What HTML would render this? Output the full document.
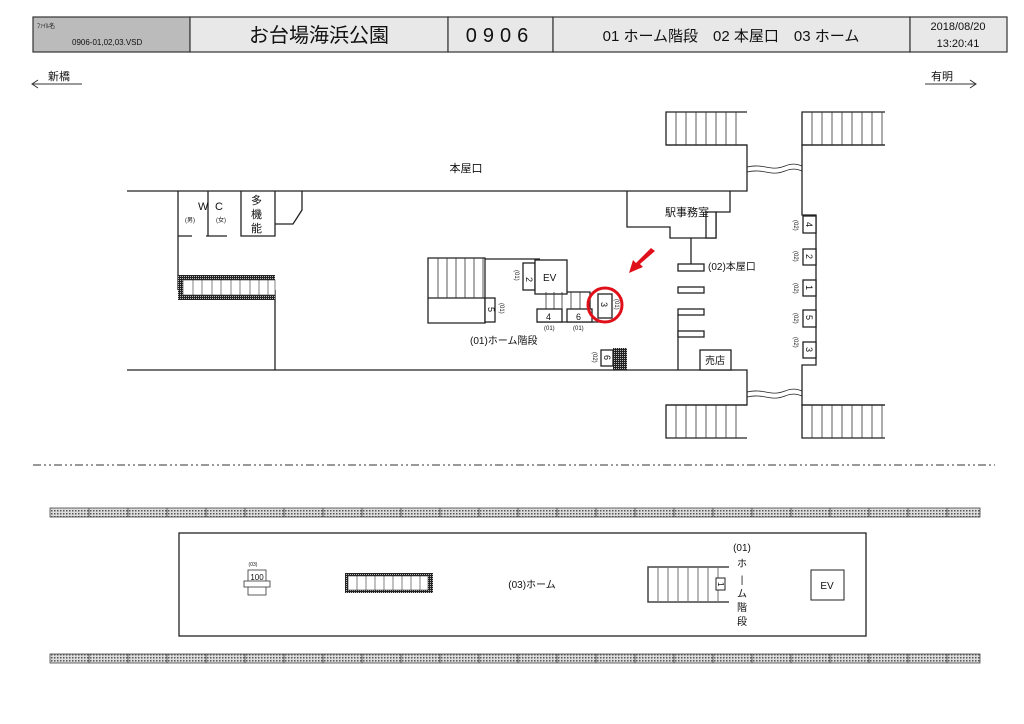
<!DOCTYPE html>
<html><head><meta charset="utf-8"><style>
html,body{margin:0;padding:0;background:#fff;width:1024px;height:724px;overflow:hidden}
svg{display:block}
text{font-family:"Liberation Sans","Noto Sans CJK JP",sans-serif;fill:#111}
</style></head><body>
<svg width="1024" height="724" viewBox="0 0 1024 724" xmlns="http://www.w3.org/2000/svg">
<defs>
<pattern id="dots" width="3" height="3" patternUnits="userSpaceOnUse"><rect width="3" height="3" fill="#ddd"/><rect width="1.5" height="1.5" fill="#555"/></pattern>
<pattern id="dk" width="2" height="2" patternUnits="userSpaceOnUse"><rect width="2" height="2" fill="#222"/><rect width="1" height="1" fill="#bbb"/></pattern>
</defs>
<!-- header -->
<g stroke="#333" stroke-width="1.2">
<rect x="33" y="17" width="157" height="35" fill="#bbb"/>
<rect x="190" y="17" width="258" height="35" fill="#e8e8e8"/>
<rect x="448" y="17" width="105" height="35" fill="#e8e8e8"/>
<rect x="553" y="17" width="357" height="35" fill="#e8e8e8"/>
<rect x="910" y="17" width="97" height="35" fill="#e8e8e8"/>
</g>
<text x="37" y="28" font-size="6">ﾌｧｲﾙ名</text>
<text x="72" y="45" font-size="8">0906-01,02,03.VSD</text>
<text x="319" y="42" font-size="20" text-anchor="middle">お台場海浜公園</text>
<text x="500" y="42" font-size="20" text-anchor="middle" letter-spacing="6">0906</text>
<text x="731" y="41" font-size="15" text-anchor="middle">01 ホーム階段　02 本屋口　03 ホーム</text>
<text x="958" y="30" font-size="11" text-anchor="middle">2018/08/20</text>
<text x="958" y="47" font-size="11" text-anchor="middle">13:20:41</text>
<!-- direction arrows -->
<text x="48" y="80" font-size="11">新橋</text>
<path d="M33 84H82M38 80L32 84L38 88" stroke="#333" fill="none"/>
<text x="931" y="80" font-size="11">有明</text>
<path d="M925 84H976M970 80L976 84L970 88" stroke="#333" fill="none"/>
<text x="466" y="172" font-size="11" text-anchor="middle">本屋口</text>
<g stroke="#222" stroke-width="1.3" fill="none">
<!-- concourse -->
<path d="M127 191H747V145H666"/>
<path d="M127 370H747V405H666"/>
<path d="M885 145H802V215H816V365H802V405H885"/>
<path d="M747 167C765 163 770 172 785 166C792 163 797 164 802 166M747 172C765 168 770 177 785 171C792 168 797 169 802 171" stroke-width="0.8"/>
<path d="M747 392C765 388 770 397 785 391C792 388 797 389 802 391M747 397C765 393 770 402 785 396C792 393 797 394 802 396" stroke-width="0.8"/>
<!-- WC -->
<path d="M178 191V290M275 290V370M178 236H192M206 236H227M241 191V236H275V191M208 191V236M275 224H293L302 210V191" />
<!-- office -->
<path d="M627 191V227H670V238H716V212H730V191M691 238V265M678 315V370"/>
<rect x="706" y="212" width="10" height="26" fill="#fff"/>
<!-- stair 01 -->
<path d="M428 258H485V323H428ZM428 298H485M485 259H540M537 292H590V322M537 322H600"/>
<rect x="485" y="298" width="10" height="24" fill="#fff"/>
<rect x="523" y="263" width="12" height="27" fill="#fff"/>
<rect x="535" y="260" width="32" height="34" fill="#fff"/>
<rect x="537" y="309" width="25" height="13" fill="#fff"/>
<rect x="567" y="309" width="25" height="13" fill="#fff"/>
<rect x="598" y="294" width="14" height="24" fill="#fff"/>
<rect x="601" y="350" width="12" height="16" fill="#fff"/>
<!-- rects -->
<rect x="678" y="264" width="26" height="7" fill="#fff"/>
<rect x="678" y="287" width="26" height="6" fill="#fff"/>
<rect x="678" y="309" width="26" height="6" fill="#fff"/>
<rect x="678" y="331" width="26" height="6" fill="#fff"/>
<rect x="700" y="350" width="31" height="20" fill="#fff"/>
<rect x="803" y="216" width="13" height="17" fill="#fff"/>
<rect x="803" y="249" width="13" height="16" fill="#fff"/>
<rect x="803" y="280" width="13" height="16" fill="#fff"/>
<rect x="803" y="310" width="13" height="17" fill="#fff"/>
<rect x="803" y="342" width="13" height="16" fill="#fff"/>
<!-- big stairs -->
<path d="M747 112H666V145H747M885 112H802V145H885M747 405H666V438H747M885 405H802V438H885"/>
<path d="M666 112V145M802 112V145M666 405V438M802 405V438" stroke-width="0.8"/>
</g>
<g stroke="#333" stroke-width="0.8">
<path d="M676 112V145M686 112V145M696 112V145M706 112V145M716 112V145M726 112V145M736 112V145"/>
<path d="M812 112V145M822 112V145M832 112V145M842 112V145M852 112V145M862 112V145M872 112V145M882 112V145"/>
<path d="M676 405V438M686 405V438M696 405V438M706 405V438M716 405V438M726 405V438M736 405V438"/>
<path d="M812 405V438M822 405V438M832 405V438M842 405V438M852 405V438M862 405V438M872 405V438M882 405V438"/>
<path d="M438 258V298M447 258V298M456 258V298M465 258V298M474 258V298M483 258V298"/>
<path d="M546 292V309M554 292V309M562 292V309M571 292V309M580 292V309"/>
</g>
<!-- escalator left -->
<rect x="178" y="275" width="97" height="25" fill="url(#dk)"/>
<rect x="183" y="280" width="92" height="15" fill="#fff" stroke="#333" stroke-width="0.6"/>
<g stroke="#333" stroke-width="0.6"><path d="M193 280V295M202 280V295M212 280V295M221 280V295M231 280V295M240 280V295M250 280V295M259 280V295M268 280V295"/></g>
<rect x="613" y="348" width="14" height="22" fill="url(#dk)"/>
<!-- labels -->
<g font-size="9">
<text x="198" y="210" font-size="11">W</text><text x="215" y="210" font-size="11">C</text>
<text x="185" y="222" font-size="6">(男)</text><text x="216" y="222" font-size="6">(女)</text>
<text x="251" y="204" font-size="11">多</text><text x="251" y="218" font-size="11">機</text><text x="251" y="232" font-size="11">能</text>
<text x="665" y="216" font-size="11">駅事務室</text>
<text x="708" y="270" font-size="10">(02)本屋口</text>
<text x="705" y="364" font-size="10">売店</text>
<text x="470" y="344" font-size="10">(01)ホーム階段</text>
<text x="543" y="281" font-size="10">EV</text>
<text x="546" y="320">4</text><text x="576" y="320">6</text>
<text x="544" y="330" font-size="6">(01)</text><text x="573" y="330" font-size="6">(01)</text>
</g>
<g font-size="9">
<text transform="translate(526,277) rotate(90)">2</text>
<text transform="translate(488,307) rotate(90)">5</text>
<text transform="translate(601,302) rotate(90)">3</text>
<text transform="translate(604,355) rotate(90)">6</text>
<text transform="translate(806,222) rotate(90)">4</text>
<text transform="translate(806,254) rotate(90)">2</text>
<text transform="translate(806,285) rotate(90)">1</text>
<text transform="translate(806,315) rotate(90)">5</text>
<text transform="translate(806,347) rotate(90)">3</text>
</g>
<g font-size="6">
<text transform="translate(515,270) rotate(90)">(01)</text>
<text transform="translate(500,303) rotate(90)">(01)</text>
<text transform="translate(615,299) rotate(90)">(01)</text>
<text transform="translate(593,352) rotate(90)">(02)</text>
<text transform="translate(794,220) rotate(90)">(02)</text>
<text transform="translate(794,251) rotate(90)">(02)</text>
<text transform="translate(794,283) rotate(90)">(02)</text>
<text transform="translate(794,313) rotate(90)">(02)</text>
<text transform="translate(794,337) rotate(90)">(02)</text>
<text transform="translate(720,578) rotate(90)">(01)</text>
</g>
<circle cx="605" cy="305" r="17" fill="none" stroke="#e0101a" stroke-width="3"/>
<path d="M655 251L640 264L643 267L629 273L633 260L636 263L651 248Z" fill="#e0101a"/>
<!-- dashed -->
<path d="M33 465H995" stroke="#333" stroke-width="1" stroke-dasharray="8,3,2,3,2,3"/>
<rect x="50" y="508" width="930" height="9" fill="url(#dots)" stroke="#444" stroke-width="0.8"/>
<rect x="50" y="654" width="930" height="9" fill="url(#dots)" stroke="#444" stroke-width="0.8"/>
<g stroke="#444" stroke-width="0.8"><path d="M89 508v9M128 508v9M167 508v9M206 508v9M245 508v9M284 508v9M323 508v9M362 508v9M401 508v9M440 508v9M479 508v9M518 508v9M557 508v9M596 508v9M635 508v9M674 508v9M713 508v9M752 508v9M791 508v9M830 508v9M869 508v9M908 508v9M947 508v9M89 654v9M128 654v9M167 654v9M206 654v9M245 654v9M284 654v9M323 654v9M362 654v9M401 654v9M440 654v9M479 654v9M518 654v9M557 654v9M596 654v9M635 654v9M674 654v9M713 654v9M752 654v9M791 654v9M830 654v9M869 654v9M908 654v9M947 654v9"/></g>
<!-- platform -->
<rect x="179" y="533" width="687" height="103" fill="#fff" stroke="#222" stroke-width="1.3"/>
<text x="532" y="588" font-size="10" text-anchor="middle">(03)ホーム</text>
<rect x="811" y="570" width="33" height="30" fill="#fff" stroke="#222"/>
<text x="827" y="589" font-size="10" text-anchor="middle">EV</text>
<text x="742" y="551" font-size="10" text-anchor="middle">(01)</text>
<text x="742" y="567" font-size="10" text-anchor="middle">ホ</text>
<text x="742" y="583" font-size="10" text-anchor="middle">|</text>
<text x="742" y="597" font-size="10" text-anchor="middle">ム</text>
<text x="742" y="611" font-size="10" text-anchor="middle">階</text>
<text x="742" y="625" font-size="10" text-anchor="middle">段</text>
<path d="M729 567H648V602H729" fill="none" stroke="#444" stroke-width="1.5"/>
<g stroke="#333" stroke-width="0.7"><path d="M658 568V601M668 568V601M678 568V601M688 568V601M698 568V601M708 568V601M718 568V601"/></g>
<rect x="716" y="578" width="9" height="12" fill="#fff" stroke="#222"/>
<text transform="translate(718,582) rotate(90)" font-size="8">1</text>
<rect x="345" y="573" width="88" height="20" fill="url(#dk)"/>
<rect x="348" y="576" width="80" height="14" fill="#fff" stroke="#333" stroke-width="0.6"/>
<g stroke="#333" stroke-width="0.6"><path d="M357 576V590M366 576V590M375 576V590M384 576V590M393 576V590M402 576V590M411 576V590M420 576V590"/></g>
<text x="253" y="566" font-size="5" text-anchor="middle">(03)</text>
<rect x="248" y="570" width="18" height="25" fill="#fff" stroke="#333" stroke-width="0.8"/>
<rect x="244" y="581" width="26" height="6" fill="#fff" stroke="#333" stroke-width="0.8"/>
<text x="257" y="580" font-size="8" text-anchor="middle">100</text>
</svg>
</body></html>
